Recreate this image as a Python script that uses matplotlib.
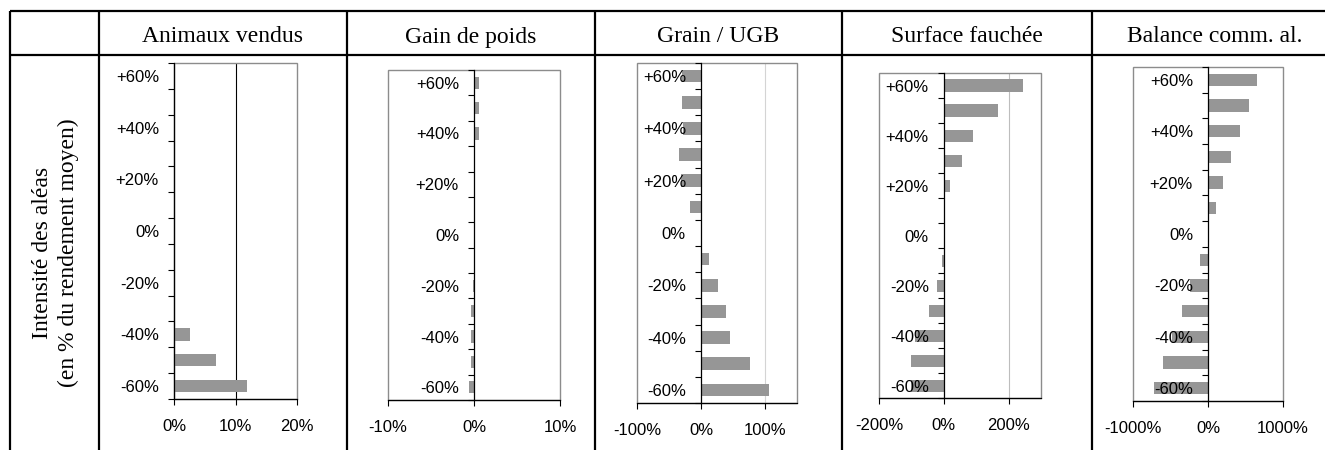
import matplotlib
matplotlib.use("Agg")
import matplotlib.pyplot as plt
from matplotlib.patches import Rectangle
from matplotlib.ticker import FixedLocator
import numpy as np

W, H = 1325, 450          # figure size in pixels (dpi 100)

# shock intensity, bottom to top
intensity = [-60, -50, -40, -30, -20, -10, 0, 10, 20, 30, 40, 50, 60]
labelled = [-60, -40, -20, 0, 20, 40, 60]

titles = ["Animaux vendus", "Gain de poids", "Grain / UGB",
          "Surface fauchée", "Balance comm. al."]

# relative change of each indicator (%) for each shock intensity
animaux = [11.8, 6.8, 2.6, 0, 0, 0, 0, 0, 0, 0, 0, 0, 0]
gain = [-0.55, -0.33, -0.33, -0.3, -0.15, 0, 0, 0, 0, 0, 0.58, 0.58, 0.58]
grain = [106, 76, 45, 39, 27, 13, 0, -17, -31, -35, -28, -29, -29]
surface = [-102, -101, -90, -45, -20, -7, 0, 4, 18, 55, 90, 168, 243]
balance = [-720, -597, -484, -344, -235, -113, 0, 104, 204, 312, 421, 548, 656]

xticks = [[0, 10, 20], [-10, 0, 10], [-100, 0, 100], [-200, 0, 200], [-1000, 0, 1000]]
xlims = [(0, 20), (-10, 10), (-100, 150), (-200, 300), (-1000, 1000)]

SERIES = [animaux, gain, grain, surface, balance]

# panel boxes in pixels: left, top, right, bottom
BOXES = [(174, 63, 297, 399), (388, 70, 560, 400), (637, 63, 797, 403),
         (879, 73, 1041, 398), (1133, 67, 1283, 401)]
# extra vertical gridline (value, colour) inside each panel
GRID = [(10, "#000000"), None, (100, "#d4d4d4"), (200, "#bdbdbd"), None]

COL_EDGES = [10, 99, 347, 595, 842, 1092, 1337]
SANS = "Liberation Sans"
SERIF = "Liberation Serif"
BAR = "#969696"
FRAME = "#8c8c8c"

fig = plt.figure(figsize=(W / 100, H / 100), dpi=100)

# table grid
tab = fig.add_axes([0, 0, 1, 1])
tab.set_xlim(0, W)
tab.set_ylim(H, 0)
tab.axis("off")
for y in (11, 55):
    tab.plot([COL_EDGES[0], W], [y, y], color="black", lw=1.6, solid_capstyle="butt")
for x in COL_EDGES[:-1]:
    tab.plot([x, x], [11, H], color="black", lw=1.6, solid_capstyle="butt")
for i, t in enumerate(titles):
    cx = (COL_EDGES[i + 1] + COL_EDGES[i + 2]) / 2
    tab.text(cx, 42.5, t, ha="center", va="baseline", fontsize=17, family=SERIF)
tab.text((COL_EDGES[0] + COL_EDGES[1]) / 2 + 1, 253,
         "Intensité des aléas\n(en % du rendement moyen)", rotation=90,
         ha="center", va="center", fontsize=17, family=SERIF, linespacing=1.3,
         multialignment="center")

ypos = np.arange(len(intensity))
for k, vals in enumerate(SERIES):
    x0, y0, x1, y1 = BOXES[k]
    ax = fig.add_axes([x0 / W, 1 - y1 / H, (x1 - x0) / W, (y1 - y0) / H])
    ax.barh(ypos, vals, height=0.48, color=BAR, zorder=1)
    ax.set_xlim(*xlims[k])
    ax.set_ylim(-0.5, len(intensity) - 0.5)
    if GRID[k]:
        ax.axvline(GRID[k][0], color=GRID[k][1], lw=0.8, zorder=0.5)

    for s in ("top", "right"):
        ax.spines[s].set_visible(False)
    ax.add_patch(Rectangle((0, 0), 1, 1, transform=ax.transAxes, fill=False,
                           ec=FRAME, lw=1.0, zorder=0.6, clip_on=False))
    ax.spines["left"].set_position(("data", 0))
    ax.spines["left"].set_color("black")
    ax.spines["left"].set_linewidth(0.9)
    ax.spines["bottom"].set_color("black")
    ax.spines["bottom"].set_linewidth(0.9)

    ax.set_xticks(xticks[k])
    ax.set_xticklabels([f"{v}%" for v in xticks[k]], family=SANS, fontsize=12)
    ax.tick_params(axis="x", direction="out", length=4, width=0.8, pad=10.5)

    ax.set_yticks([intensity.index(v) for v in labelled])
    ax.set_yticklabels([f"{v:+d}%" if v else "0%" for v in labelled],
                       family=SANS, fontsize=12)
    ax.yaxis.set_minor_locator(FixedLocator(np.arange(-0.5, len(intensity), 1)))
    ax.tick_params(axis="y", which="major", length=0, pad=10.8)
    ax.tick_params(axis="y", which="minor", direction="out", length=4, width=0.8)

fig.savefig("out.png", dpi=100)
